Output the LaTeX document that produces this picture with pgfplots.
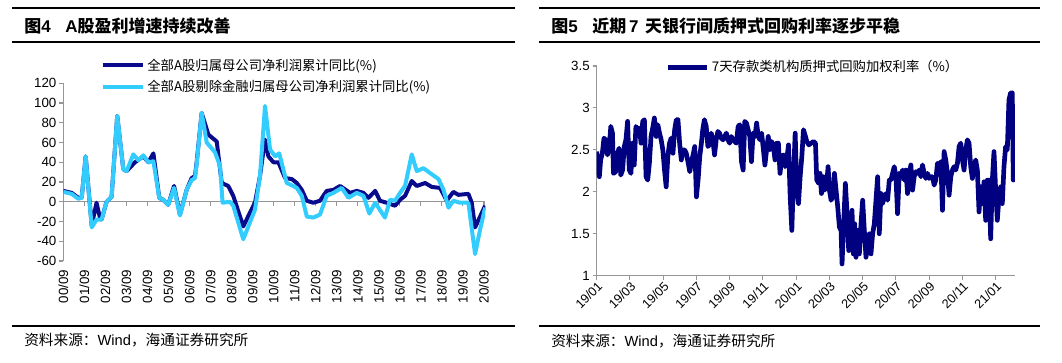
\documentclass[border=0pt]{standalone}
\usepackage{pgfplots}
\pgfplotsset{compat=1.18}
\usepackage{fontspec}
\setmainfont{Liberation Sans}
\newfontfamily\cjk{Noto Sans CJK SC}
\definecolor{navyA}{RGB}{10,10,140}
\definecolor{navyB}{RGB}{0,0,128}
\definecolor{cyanl}{RGB}{51,204,255}
\definecolor{axgray}{RGB}{150,150,150}
\begin{document}
\begin{tikzpicture}
\begin{scope}[x=0.75pt,y=-0.75pt]
\path[use as bounding box] (0,0) rectangle (1062,363);
\draw[line width=1pt] (12,8) -- (515,8);
\draw[line width=1pt] (12,42) -- (515,42);
\draw[line width=1pt] (12,326) -- (515,326);
\draw[line width=1pt] (539,8) -- (1040,8);
\draw[line width=1pt] (539,42) -- (1040,42);
\draw[line width=1pt] (539,326) -- (1040,326);
\node[anchor=west,inner sep=0pt] at (24,26) {\fontsize{12.75}{15}\selectfont\bfseries{\cjk 图}4\hspace{11pt}A{\cjk 股盈利增速持续改善}};
\node[anchor=west,inner sep=0pt] at (551,26) {\fontsize{12.75}{15}\selectfont\bfseries{\cjk 图}5\hspace{11pt}{\cjk 近期}\hspace{2pt}7\hspace{5pt}{\cjk 天银行间质押式回购利率逐步平稳}};
\node[anchor=west,inner sep=0pt] at (24,340) {\fontsize{11}{13}\selectfont{\cjk 资料来源：}Wind{\cjk ，海通证券研究所}};
\node[anchor=west,inner sep=0pt] at (551,341) {\fontsize{11}{13}\selectfont{\cjk 资料来源：}Wind{\cjk ，海通证券研究所}};
\end{scope}

% ---------------- left chart ----------------
\begin{axis}[
  at={(47.475pt,-195.75pt)}, anchor=south west,
  scale only axis, width=316.6pt, height=133.3pt,
  xmin=0, xmax=20.07, ymin=-60, ymax=120,
  axis line style={-},
  axis y line*=left, axis x line*=bottom,
  x axis line style={draw=none},
  y axis line style={axgray, line width=0.8pt},
  xtick={0,1,...,20},
  xticklabels={00/09,01/09,02/09,03/09,04/09,05/09,06/09,07/09,08/09,09/09,10/09,11/09,12/09,13/09,14/09,15/09,16/09,17/09,18/09,19/09,20/09},
  x tick style={draw=none},
  ytick={-60,-40,...,120},
  y tick style={axgray, line width=0.8pt},
  tick align=outside, major tick length=3pt,
  xticklabel style={rotate=90, anchor=east, font=\fontsize{10}{12}\selectfont, inner sep=3.5pt},
  yticklabel style={font=\fontsize{10}{12}\selectfont, inner sep=2pt},
  /pgf/number format/assume math mode=true,
  x filter/.expression={x*0.9938},
  legend style={at={(axis description cs:0.088,1.04)}, anchor=west, draw=none, fill=none,
    font=\cjk\fontsize{10}{12}\selectfont, row sep=2pt, inner sep=0pt},
  legend cell align=left,
  legend image code/.code={\draw[#1] (0pt,0pt) -- (30pt,0pt);},
  line join=round,
]
\draw[axgray, line width=0.8pt] (axis cs:0,0) -- (axis cs:20.07,0);
\pgfplotsinvokeforeach{0,...,20}{\draw[axgray, line width=0.8pt] (axis cs:#1,0) -- ++(0pt,-3pt);}
\addplot[navyA, line width=3pt] coordinates {
(0,11) (0.40,9) (0.72,4) (0.88,4) (1.07,46) (1.36,-24) (1.59,-1) (1.75,-16) (1.83,-18)
(2.07,0) (2.31,5) (2.58,87) (2.87,33) (3.03,31) (3.43,40) (3.83,46) (4.07,40) (4.31,49)
(4.59,4) (4.78,2) (5.02,-3) (5.30,16) (5.58,-13) (5.90,12) (6.14,24) (6.30,26) (6.38,40)
(6.62,90) (6.94,68) (7.34,61) (7.58,19) (7.89,16) (8.13,6) (8.61,-25) (8.93,-11) (9.17,-1)
(9.41,26) (9.65,63) (9.81,46) (10.05,40) (10.29,40) (10.61,24) (10.93,23) (11.17,19)
(11.41,12) (11.65,1) (11.96,-1) (12.28,1) (12.60,11) (12.92,12) (13.24,16) (13.72,9)
(14.04,11) (14.36,9) (14.60,4) (14.92,11) (15.15,1) (15.47,-1) (15.87,-4) (16.11,2)
(16.35,6) (16.67,21) (16.91,16) (17.31,19) (17.63,15) (18.03,14) (18.34,1) (18.66,10)
(18.90,7) (19.38,8) (19.54,-1) (19.70,-26) (19.94,-15) (20.18,-4)
};
\addlegendentry{全部A股归属母公司净利润累计同比(\%)}
\addplot[cyanl, line width=3pt] coordinates {
(0,10) (0.40,8) (0.72,3) (0.88,4) (1.07,46) (1.36,-26) (1.59,-18) (1.83,-18) (2.07,0)
(2.31,5) (2.58,87) (2.87,33) (3.03,31) (3.35,48) (3.59,42) (3.83,47) (4.07,40) (4.31,41)
(4.59,4) (4.78,2) (5.02,-3) (5.30,14) (5.58,-14) (5.90,12) (6.14,22) (6.30,24) (6.38,38)
(6.62,90) (6.86,60) (7.26,50) (7.50,36) (7.62,-1) (7.97,0) (8.13,-4) (8.61,-38) (9.17,-8)
(9.41,26) (9.65,97) (9.89,53) (10.13,46) (10.33,49) (10.69,19) (11.00,16) (11.17,14)
(11.41,6) (11.65,-15) (11.96,-16) (12.28,-13) (12.60,6) (12.92,9) (13.32,14) (13.64,4)
(14.04,9) (14.36,6) (14.64,-12) (14.92,-1) (15.39,-16) (15.63,2) (15.87,1) (16.11,9)
(16.35,16) (16.67,48) (16.91,31) (17.23,34) (17.55,29) (17.95,23) (18.19,12) (18.43,-6)
(18.66,1) (18.98,-1) (19.38,-1) (19.70,-53) (19.94,-28) (20.18,-6)
};
\addlegendentry{全部A股剔除金融归属母公司净利润累计同比(\%)}
\end{axis}

% ---------------- right chart ----------------
\begin{axis}[
  at={(447.5pt,-206.8pt)}, anchor=south west,
  scale only axis, width=313.7pt, height=157.3pt,
  xmin=0, xmax=25.16, ymin=1, ymax=3.5,
  axis line style={-},
  axis y line*=left, axis x line*=bottom,
  x axis line style={axgray, line width=0.8pt},
  y axis line style={axgray, line width=0.8pt},
  xtick={0,2,...,24},
  xticklabels={19/01,19/03,19/05,19/07,19/09,19/11,20/01,20/03,20/05,20/07,20/09,20/11,21/01},
  ytick={1,1.5,2,2.5,3,3.5},
  yticklabels={1,1.5,2,2.5,3,3.5},
  tick style={axgray, line width=0.8pt},
  tick align=outside, major tick length=3pt,
  xticklabel style={rotate=45, anchor=north east, font=\fontsize{9.5}{11}\selectfont, inner sep=0.5pt},
  yticklabel style={font=\fontsize{10}{12}\selectfont, inner sep=2pt},
  legend style={at={(axis description cs:0.165,0.994)}, anchor=west, draw=none, fill=none,
    font=\cjk\fontsize{10}{12}\selectfont, inner sep=0pt},
  legend image code/.code={\draw[#1] (0pt,0pt) -- (29pt,0pt);},
  line join=round,
]
\addplot[navyB, line width=3.5pt] coordinates {
(0.00,2.48) (0.08,2.30) (0.16,2.18) (0.24,2.38) (0.34,2.46) (0.44,2.64) (0.55,2.62) (0.65,2.44)
(0.75,2.52) (0.85,2.78) (0.95,2.70) (1.01,2.22) (1.15,2.24) (1.25,2.46) (1.35,2.52) (1.45,2.20)
(1.56,2.26) (1.66,2.54) (1.76,2.62) (1.86,2.84) (1.96,2.26) (2.06,2.22) (2.16,2.58) (2.26,2.32)
(2.36,2.78) (2.46,2.74) (2.57,2.76) (2.67,2.58) (2.77,2.84) (2.87,2.86) (2.97,2.18) (3.07,2.14)
(3.17,2.34) (3.27,2.66) (3.37,2.76) (3.47,2.88) (3.58,2.66) (3.68,2.80) (3.78,2.70) (3.88,2.62)
(3.98,2.50) (4.08,2.26) (4.18,2.06) (4.28,2.42) (4.38,2.58) (4.48,2.64) (4.59,2.46) (4.69,2.74)
(4.79,2.86) (4.89,2.86) (4.99,2.58) (5.09,2.38) (5.19,2.50) (5.29,2.50) (5.39,2.46) (5.49,2.36)
(5.60,2.24) (5.70,2.36) (5.80,2.44) (5.90,2.54) (6.00,1.94) (6.10,2.14) (6.20,2.42) (6.30,2.58)
(6.38,2.74) (6.48,2.86) (6.59,2.78) (6.69,2.54) (6.79,2.56) (6.89,2.70) (6.99,2.62) (7.09,2.44)
(7.19,2.62) (7.29,2.72) (7.39,2.70) (7.49,2.64) (7.60,2.62) (7.70,2.66) (7.80,2.70) (7.90,2.62)
(8.00,2.58) (8.10,2.66) (8.20,2.62) (8.30,2.60) (8.40,2.58) (8.51,2.78) (8.61,2.80) (8.71,2.36)
(8.81,2.26) (8.91,2.84) (9.01,2.82) (9.11,2.74) (9.21,2.66) (9.31,2.36) (9.41,2.70) (9.52,2.66)
(9.62,2.82) (9.72,2.66) (9.82,2.62) (9.92,2.70) (10.02,2.52) (10.12,2.32) (10.22,2.50) (10.32,2.66)
(10.42,2.50) (10.53,2.60) (10.63,2.54) (10.73,2.38) (10.83,2.58) (10.93,2.58) (11.03,2.22) (11.13,2.42)
(11.23,2.44) (11.33,2.30) (11.43,2.38) (11.54,2.56) (11.64,1.94) (11.74,1.54) (11.84,2.18) (11.94,2.70)
(12.04,2.02) (12.14,1.86) (12.24,2.18) (12.34,2.42) (12.44,2.74) (12.56,2.66) (12.64,2.60) (12.76,2.56)
(12.90,2.58) (13.04,2.60) (13.16,2.58) (13.24,2.14) (13.36,2.10) (13.44,2.22) (13.52,1.98) (13.64,2.18)
(13.72,2.02) (13.84,2.10) (13.92,2.30) (14.00,2.02) (14.10,1.90) (14.20,1.94) (14.30,2.22) (14.40,2.02)
(14.50,1.82) (14.60,1.58) (14.70,1.54) (14.76,1.14) (14.84,1.54) (14.96,2.10) (15.04,1.82) (15.16,1.30)
(15.26,1.46) (15.36,1.78) (15.44,1.26) (15.52,1.62) (15.60,1.22) (15.70,1.54) (15.80,1.26) (15.90,1.62)
(16.00,1.90) (16.10,1.54) (16.20,1.22) (16.30,1.34) (16.40,1.50) (16.50,1.26) (16.60,1.50) (16.70,1.62)
(16.80,1.90) (16.90,2.18) (17.00,1.50) (17.10,1.98) (17.20,1.86) (17.30,1.94) (17.40,1.98) (17.50,1.90)
(17.60,2.14) (17.70,2.14) (17.80,2.22) (17.90,2.30) (18.00,2.18) (18.10,1.74) (18.20,2.22) (18.30,2.18)
(18.40,2.26) (18.50,2.14) (18.60,2.26) (18.70,1.98) (18.80,2.22) (18.90,2.32) (19.00,2.02) (19.10,2.18)
(19.20,2.24) (19.30,2.22) (19.40,2.26) (19.50,2.18) (19.60,2.32) (19.70,2.22) (19.80,2.16) (19.90,2.22)
(20.00,2.16) (20.10,2.18) (20.20,2.18) (20.30,2.08) (20.40,2.14) (20.50,2.34) (20.60,2.30) (20.70,2.36)
(20.80,1.78) (20.90,2.48) (21.00,2.38) (21.10,2.22) (21.20,1.96) (21.30,2.18) (21.40,2.26) (21.50,2.30)
(21.60,2.26) (21.70,2.34) (21.80,2.54) (21.90,2.58) (22.00,2.38) (22.10,2.26) (22.20,2.50) (22.30,2.62)
(22.40,2.58) (22.50,2.30) (22.60,2.16) (22.70,2.30) (22.80,2.38) (22.90,2.26) (23.00,1.76) (23.10,2.06)
(23.20,1.86) (23.30,2.12) (23.40,1.66) (23.50,2.14) (23.60,2.14) (23.70,1.44) (23.80,2.14) (23.90,2.48)
(24.00,2.02) (24.10,1.66) (24.20,1.94) (24.30,2.06) (24.40,1.86) (24.50,2.30) (24.60,2.54) (24.70,2.50)
(24.80,3.10) (24.90,3.18) (25.00,3.18) (25.06,2.14) (25.14,2.30)
};
\addlegendentry{7天存款类机构质押式回购加权利率（\%）}
\end{axis}
\end{tikzpicture}
\end{document}
